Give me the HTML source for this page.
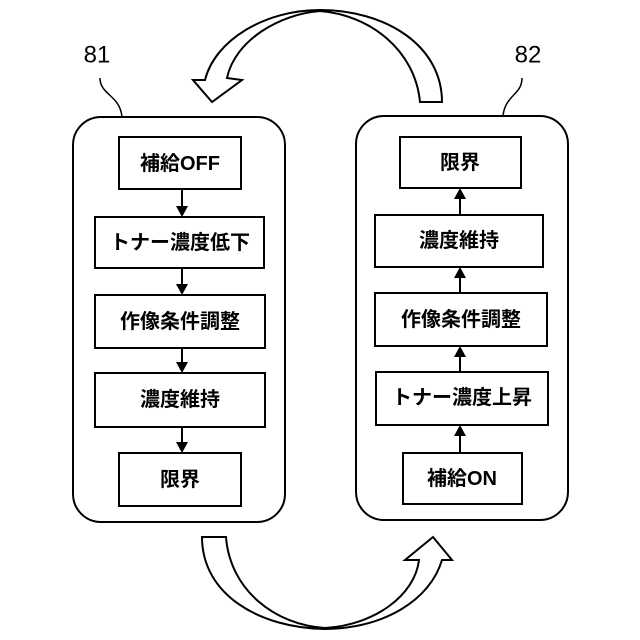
<!DOCTYPE html>
<html><head><meta charset="utf-8"><style>
html,body{margin:0;padding:0;background:#fff;}
svg{display:block;}
text{font-family:"Liberation Sans","Noto Sans CJK JP",sans-serif;font-size:20px;fill:#000;text-anchor:middle;dominant-baseline:central;font-weight:bold;}
.n{font-weight:normal;font-size:24px;}
</style></head><body>
<svg width="640" height="640" viewBox="0 0 640 640" xmlns="http://www.w3.org/2000/svg">
<g fill="none" stroke="#000" stroke-width="2">
<rect x="73" y="117" width="212" height="405" rx="28"/>
<rect x="356" y="116" width="212" height="404" rx="28"/>
<path d="M100 78 C100 95 120 95 122 117" stroke-width="1.5"/>
<path d="M522 78 C522 95 505 95 503 116" stroke-width="1.5"/>
<!-- top curved arrow -->
<path d="M442 102 L420 102 C415 50 370 15 320 11 C280 14 235 40 227 78 L242 80 L212 102 L193 80 L205 80 C215 40 265 10 320 10 C385 10 442 45 442 102 Z" fill="#fff"/>
<!-- bottom curved arrow -->
<path d="M202 537 L226 537 C230 590 275 625 325 628 C375 625 415 595 419 560 L405 560 L433 537 L452 560 L442 560 C430 600 385 628 325 629 C260 628 202 595 202 537 Z" fill="#fff"/>
<!-- left boxes -->
<rect x="119" y="137" width="122" height="52"/>
<rect x="95" y="217" width="169" height="51"/>
<rect x="95" y="295" width="170" height="53"/>
<rect x="95" y="373" width="170" height="54"/>
<rect x="119" y="453" width="122" height="53"/>
<!-- right boxes -->
<rect x="400" y="137" width="121" height="51"/>
<rect x="375" y="215" width="168" height="52"/>
<rect x="375" y="293" width="172" height="53"/>
<rect x="376" y="372" width="172" height="53"/>
<rect x="403" y="453" width="119" height="51"/>
<!-- left connectors -->
<path d="M182 189 V208 M182 268 V286 M182 348 V364 M182 427 V444"/>
<!-- right connectors -->
<path d="M460 215 V198 M460 293 V277 M460 372 V356 M460 453 V435"/>
</g>
<g fill="#000">
<path d="M176 206 L188 206 L182 217 Z"/>
<path d="M176 284 L188 284 L182 295 Z"/>
<path d="M176 362 L188 362 L182 373 Z"/>
<path d="M176 442 L188 442 L182 453 Z"/>
<path d="M454 199 L466 199 L460 188 Z"/>
<path d="M454 278 L466 278 L460 267 Z"/>
<path d="M454 357 L466 357 L460 346 Z"/>
<path d="M454 436 L466 436 L460 425 Z"/>
</g>
<text class="n" x="97" y="55">81</text>
<text class="n" x="528" y="55">82</text>
<text x="180" y="164">補給OFF</text>
<text x="180" y="243">トナー濃度低下</text>
<text x="180" y="322">作像条件調整</text>
<text x="180" y="400">濃度維持</text>
<text x="180" y="480">限界</text>
<text x="460" y="163">限界</text>
<text x="459" y="241">濃度維持</text>
<text x="461" y="320">作像条件調整</text>
<text x="462" y="398">トナー濃度上昇</text>
<text x="462" y="479">補給ON</text>
</svg>
</body></html>
